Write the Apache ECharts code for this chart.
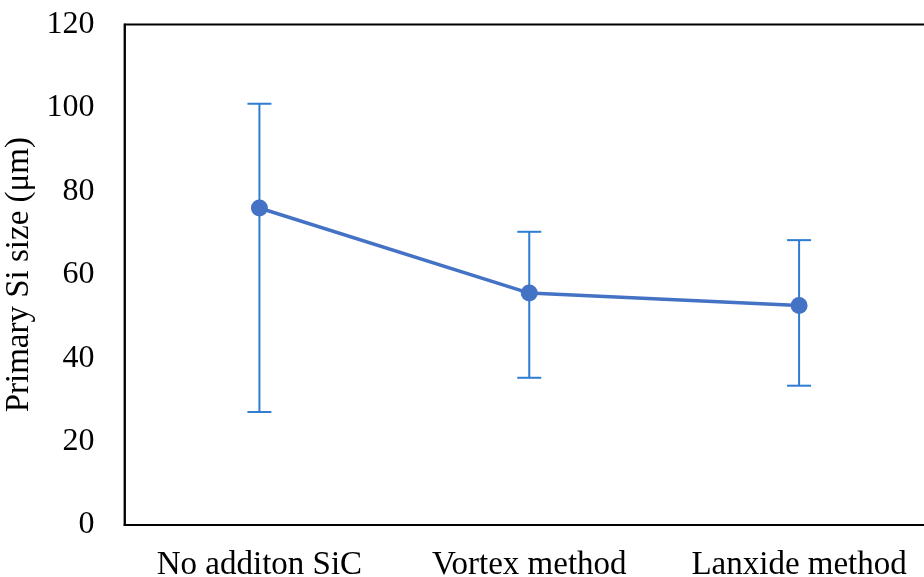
<!DOCTYPE html>
<html>
<head>
<meta charset="utf-8">
<script src="https://cdn.jsdelivr.net/npm/echarts@6/dist/echarts.min.js"></script>
<style>
html,body{margin:0;padding:0;background:#fff;}
#chart{width:924px;height:577px;}
</style>
</head>
<body>
<div id="chart"></div>
<script>
var categories = ['No additon SiC', 'Vortex method', 'Lanxide method'];
var meanValues = [76.0, 55.6, 52.6];
var upperValues = [101.0, 70.3, 68.3];
var lowerValues = [27.1, 35.3, 33.4];
var yTicks = [0, 20, 40, 60, 80, 100, 120];

var errData = categories.map(function (c, i) { return [i, lowerValues[i], upperValues[i]]; });
var font = '"Liberation Serif", "Times New Roman", serif';

var chart = echarts.init(document.getElementById('chart'), null, {renderer: 'canvas'});
chart.setOption({
  animation: false,
  backgroundColor: '#ffffff',
  grid: {
    left: 124.5, right: -10, top: 24.5, bottom: 52,
    outerBoundsMode: 'none',
    containLabel: false,
    show: true, borderColor: '#000', borderWidth: 1.8, backgroundColor: 'transparent'
  },
  xAxis: {
    type: 'category',
    data: categories,
    boundaryGap: true,
    axisLine: {show: true, lineStyle: {color: '#000', width: 1.8}},
    axisTick: {show: false},
    axisLabel: {color: '#000', fontFamily: font, fontSize: 33, margin: 24, interval: 0}
  },
  yAxis: {
    type: 'value',
    min: yTicks[0], max: yTicks[yTicks.length - 1], interval: 20,
    name: 'Primary Si size (μm)',
    nameLocation: 'middle',
    nameRotate: 90,
    nameGap: 82,
    nameTextStyle: {color: '#000', fontFamily: font, fontSize: 33},
    axisLine: {show: true, lineStyle: {color: '#000', width: 1.8}},
    axisTick: {show: false},
    splitLine: {show: false},
    axisLabel: {color: '#000', fontFamily: font, fontSize: 32, margin: 30, padding: [5, 0, 0, 0]}
  },
  series: [
    {
      type: 'custom',
      data: errData,
      z: 2,
      renderItem: function (params, api) {
        var x = api.value(0);
        var lo = api.coord([x, api.value(1)]);
        var hi = api.coord([x, api.value(2)]);
        var hw = 12;
        var st = {stroke: '#2E7DD2', lineWidth: 2};
        return {
          type: 'group',
          children: [
            {type: 'line', shape: {x1: hi[0], y1: hi[1], x2: lo[0], y2: lo[1]}, style: st},
            {type: 'line', shape: {x1: hi[0] - hw, y1: hi[1], x2: hi[0] + hw, y2: hi[1]}, style: st},
            {type: 'line', shape: {x1: lo[0] - hw, y1: lo[1], x2: lo[0] + hw, y2: lo[1]}, style: st}
          ]
        };
      }
    },
    {
      type: 'line',
      data: meanValues,
      z: 3,
      symbol: 'circle',
      symbolSize: 17,
      lineStyle: {color: '#4472C4', width: 3.5},
      itemStyle: {color: '#4472C4'}
    }
  ]
});
</script>
</body>
</html>
